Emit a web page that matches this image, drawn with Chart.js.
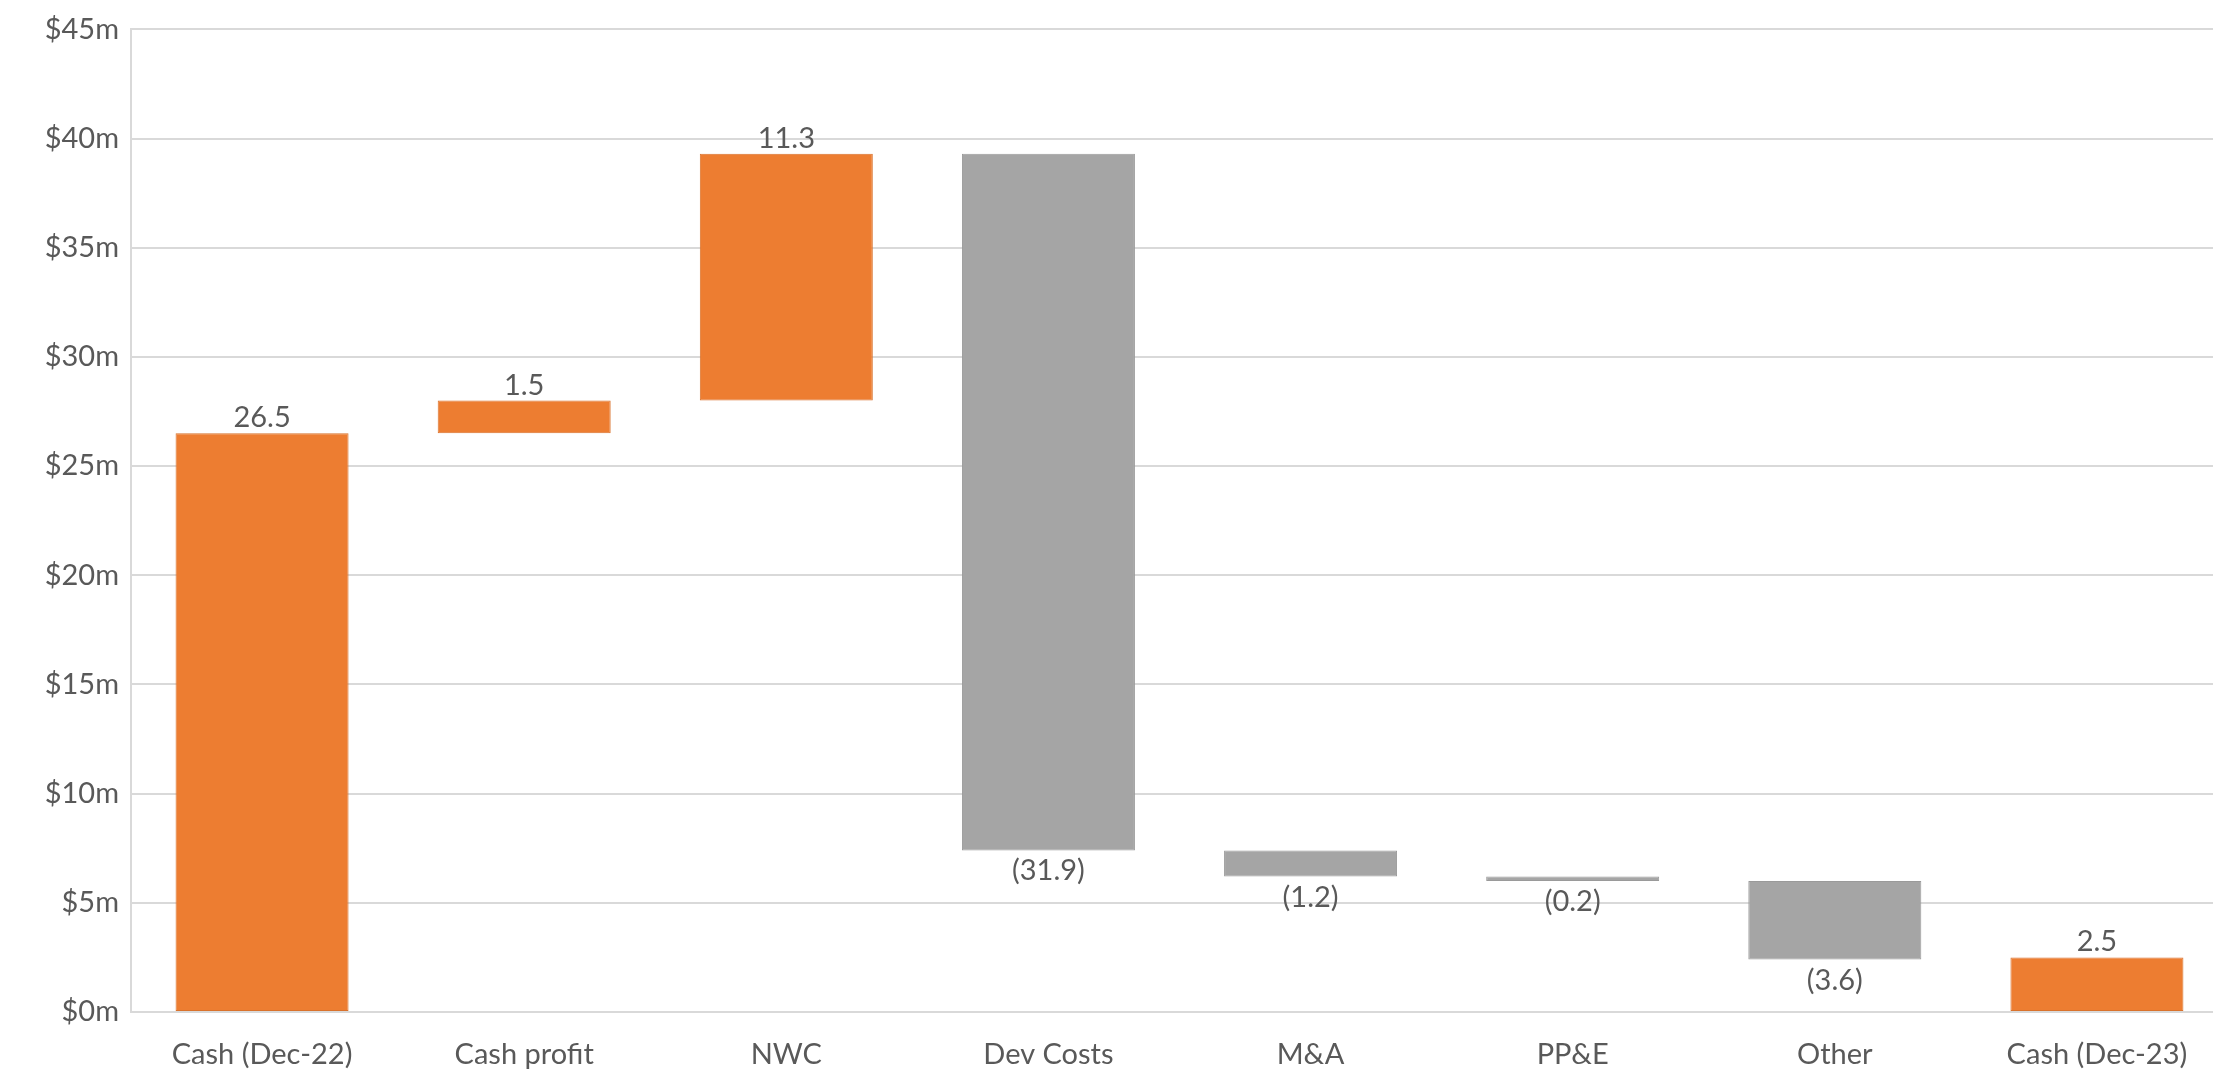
<!DOCTYPE html>
<html>
<head>
<meta charset="utf-8">
<script src="https://cdn.jsdelivr.net/npm/chart.js@4/dist/chart.umd.min.js"></script>
<style>
  html, body { margin: 0; padding: 0; background: #ffffff; overflow: hidden; }
  #wrap { width: 2213px; height: 1074px; position: relative; overflow: hidden; }
  #c { position: absolute; left: 0; top: 0; }
</style>
</head>
<body>
<div id="wrap"><canvas id="c" width="2228" height="1074" style="width:2228px;height:1074px"></canvas></div>
<script>
const categories = ['Cash (Dec-22)', 'Cash profit', 'NWC', 'Dev Costs', 'M&A', 'PP&E', 'Other', 'Cash (Dec-23)'];
const deltas = [26.5, 1.5, 11.3, -31.9, -1.2, -0.2, -3.6, 2.5];
const isTotal = [true, false, false, false, false, false, false, true];
const valueLabels = ['26.5', '1.5', '11.3', '(31.9)', '(1.2)', '(0.2)', '(3.6)', '2.5'];
const yTicks = [0, 5, 10, 15, 20, 25, 30, 35, 40, 45];

const ORANGE = '#ED7D31';
const GREY = '#A5A5A5';
const TEXT = '#595959';
const FONT = 'Lato';

// build floating bar ranges from the deltas
let running = 0;
const ranges = deltas.map((d, i) => {
  if (isTotal[i]) { running = d; return [0, d]; }
  const r = [running, running + d];
  running += d;
  return r;
});
const colors = deltas.map((d, i) => (isTotal[i] || d > 0) ? ORANGE : GREY);
const borders = deltas.map((d, i) => (isTotal[i] || d > 0) ? '#D9722C' : '#9A9A9A');

const labelPlugin = {
  id: 'valueLabels',
  afterDatasetsDraw(chart) {
    const ctx = chart.ctx;
    const meta = chart.getDatasetMeta(0);
    ctx.save();
    ctx.font = '29px ' + FONT;
    ctx.fillStyle = TEXT;
    ctx.textAlign = 'center';
    ctx.textBaseline = 'alphabetic';
    meta.data.forEach((bar, i) => {
      const top = Math.min(bar.y, bar.base);
      const bottom = Math.max(bar.y, bar.base);
      if (isTotal[i] || deltas[i] > 0) {
        ctx.fillText(valueLabels[i], bar.x, top - 6);
      } else {
        ctx.fillText(valueLabels[i], bar.x, bottom + 30);
      }
    });
    ctx.restore();
  }
};

new Chart(document.getElementById('c'), {
  type: 'bar',
  data: {
    labels: categories,
    datasets: [{
      data: ranges,
      backgroundColor: colors,
      borderColor: borders,
      borderWidth: 1,
      borderSkipped: false,
      barPercentage: 0.66,
      categoryPercentage: 1.0
    }]
  },
  options: {
    responsive: false,
    animation: false,
    layout: { padding: { top: 28, right: 0, left: 0, bottom: 0 } },
    plugins: {
      legend: { display: false },
      tooltip: { enabled: false }
    },
    scales: {
      x: {
        grid: { display: false, drawTicks: false },
        border: { display: true, color: '#D9D9D9', width: 2 },
        ticks: { color: TEXT, font: { family: FONT, size: 29 }, padding: 25, maxRotation: 0 },
        afterFit(scale) { scale.height = 62; }
      },
      y: {
        min: 0,
        max: 45,
        afterBuildTicks(scale) { scale.ticks = yTicks.map(v => ({ value: v })); },
        grid: { color: '#D9D9D9', lineWidth: 2, drawTicks: false },
        border: { display: true, color: '#D9D9D9', width: 2 },
        ticks: {
          color: TEXT,
          font: { family: FONT, size: 29 },
          padding: 12,
          callback: (v) => '$' + v + 'm'
        },
        afterFit(scale) { scale.width = 131; }
      }
    }
  },
  plugins: [labelPlugin]
});
</script>
</body>
</html>
